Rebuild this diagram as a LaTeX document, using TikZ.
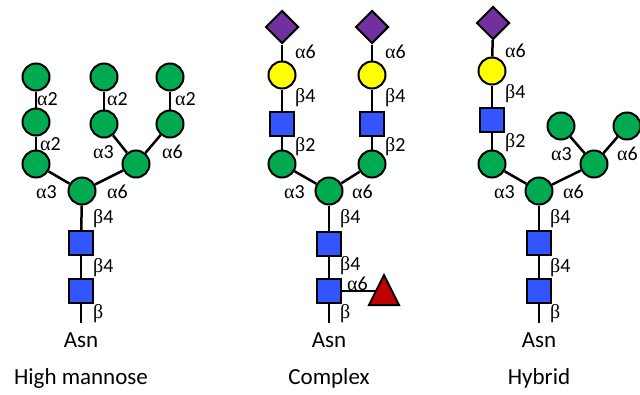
\documentclass[tikz,border=0pt]{standalone}
\usepackage{fontspec}
\setmainfont{Carlito}
\newfontfamily\grk{Liberation Serif}
\usetikzlibrary{shapes.geometric}
\definecolor{mgreen}{RGB}{0,170,80}
\definecolor{mblue}{RGB}{51,85,255}
\definecolor{myellow}{RGB}{255,255,0}
\definecolor{mpurple}{RGB}{112,48,160}
\definecolor{mred}{RGB}{192,0,0}
\newcommand\ga{{\grk α}}
\newcommand\gb{{\grk β}}
\tikzset{
  man/.style={circle,draw=black,fill=mgreen,line width=2pt,minimum size=27pt,inner sep=0pt},
  gal/.style={circle,draw=black,fill=myellow,line width=2pt,minimum size=27pt,inner sep=0pt},
  glc/.style={rectangle,draw=black,fill=mblue,line width=2pt,minimum size=24pt,inner sep=0pt},
  sia/.style={diamond,draw=black,fill=mpurple,line width=2pt,minimum width=33pt,minimum height=33pt,inner sep=0pt},
  fuc/.style={draw=black,fill=mred,line width=2pt,line join=miter},
  edge/.style={line width=2.5pt,black},
  lab/.style={anchor=base west,inner sep=0pt,font=\fontsize{20}{20}\selectfont},
  ttl/.style={anchor=base,inner sep=0pt,font=\fontsize{23}{23}\selectfont}
}
\begin{document}
\begin{tikzpicture}[x=1pt,y=-1pt]
\useasboundingbox (0,0) rectangle (640,394);
% ---------------- High mannose ----------------
\node[man] (h1) at (36,77) {};
\node[man] (h2) at (36,122) {};
\node[man] (h3) at (36,164) {};
\node[man] (h4) at (104,77) {};
\node[man] (h5) at (104,124) {};
\node[man] (h6) at (170,77) {};
\node[man] (h7) at (170,124) {};
\node[man] (h8) at (136,164) {};
\node[man] (hc) at (82,191) {};
\node[glc] (hs1) at (81,243) {};
\node[glc] (hs2) at (81,291) {};
\coordinate (he) at (81,323);
\draw[edge] (h1) -- (h2);
\draw[edge] (h2) -- (h3);
\draw[edge] (h3) -- (hc);
\draw[edge] (h4) -- (h5);
\draw[edge] (h5) -- (h8);
\draw[edge] (h6) -- (h7);
\draw[edge] (h7) -- (h8);
\draw[edge] (h8) -- (hc);
\draw[edge] (hc) -- (hs1);
\draw[edge] (hs1) -- (hs2);
\draw[edge] (hs2) -- (he);
\node[lab] (hl1) at (37,105) {\ga2};
\node[lab] (hl2) at (40,150) {\ga2};
\node[lab] (hl3) at (36,198) {\ga3};
\node[lab] (hl4) at (107,198) {\ga6};
\node[lab] (hl5) at (107,105) {\ga2};
\node[lab] (hl6) at (93,158) {\ga3};
\node[lab] (hl7) at (175,105) {\ga2};
\node[lab] (hl8) at (162,158) {\ga6};
\node[lab] (hl9) at (93,223) {\gb4};
\node[lab] (hl10) at (93,272) {\gb4};
\node[lab] (hl11) at (93,318) {\gb};
\node[ttl] (hasn) at (81,347) {Asn};
\node[ttl] (htt) at (81,384) {High mannose};
% ---------------- Complex ----------------
\node[sia] (c1) at (282,27) {};
\node[gal] (c2) at (282,75) {};
\node[glc] (c3) at (282,124) {};
\node[man] (c4) at (282,164) {};
\node[sia] (c5) at (372,27) {};
\node[gal] (c6) at (372,75) {};
\node[glc] (c7) at (372,124) {};
\node[man] (c8) at (372,164) {};
\node[man] (cc) at (329,191) {};
\node[glc] (cs1) at (329,244) {};
\node[glc] (cs2) at (329,291) {};
\coordinate (ce) at (329,323);
\coordinate (cf) at (384,293);
\draw[edge] (c1) -- (c2);
\draw[edge] (c2) -- (c3);
\draw[edge] (c3) -- (c4);
\draw[edge] (c4) -- (cc);
\draw[edge] (c5) -- (c6);
\draw[edge] (c6) -- (c7);
\draw[edge] (c7) -- (c8);
\draw[edge] (c8) -- (cc);
\draw[edge] (cc) -- (cs1);
\draw[edge] (cs1) -- (cs2);
\draw[edge] (cs2) -- (ce);
\draw[edge] (cs2.east) -- (cf |- cs2.east);
\draw[fuc] (384,275) -- (399,305) -- (369,305) -- cycle;
\node[lab] (cl1) at (295,58) {\ga6};
\node[lab] (cl2) at (295,102) {\gb4};
\node[lab] (cl3) at (295,151) {\gb2};
\node[lab] (cl4) at (385,58) {\ga6};
\node[lab] (cl5) at (385,102) {\gb4};
\node[lab] (cl6) at (385,151) {\gb2};
\node[lab] (cl7) at (284,198) {\ga3};
\node[lab] (cl8) at (352,198) {\ga6};
\node[lab] (cl9) at (340,223) {\gb4};
\node[lab] (cl10) at (340,270) {\gb4};
\node[lab] (cl11) at (347,290) {\ga6};
\node[lab] (cl12) at (340,318) {\gb};
\node[ttl] (casn) at (329,347) {Asn};
\node[ttl] (ctt) at (329,384) {Complex};
% ---------------- Hybrid ----------------
\node[sia] (y1) at (493,23) {};
\node[gal] (y2) at (492,71) {};
\node[glc] (y3) at (492,120) {};
\node[man] (y4) at (492,164) {};
\node[man] (y5) at (561,126) {};
\node[man] (y6) at (627,126) {};
\node[man] (y7) at (594,164) {};
\node[man] (yc) at (539,191) {};
\node[glc] (ys1) at (539,243) {};
\node[glc] (ys2) at (539,291) {};
\coordinate (ye) at (539,323);
\draw[edge] (y1) -- (y2);
\draw[edge] (y2) -- (y3);
\draw[edge] (y3) -- (y4);
\draw[edge] (y4) -- (yc);
\draw[edge] (y5) -- (y7);
\draw[edge] (y6) -- (y7);
\draw[edge] (y7) -- (yc);
\draw[edge] (yc) -- (ys1);
\draw[edge] (ys1) -- (ys2);
\draw[edge] (ys2) -- (ye);
\node[lab] (yl1) at (505,57) {\ga6};
\node[lab] (yl2) at (505,98) {\gb4};
\node[lab] (yl3) at (505,147) {\gb2};
\node[lab] (yl4) at (551,160) {\ga3};
\node[lab] (yl5) at (617,160) {\ga6};
\node[lab] (yl6) at (494,198) {\ga3};
\node[lab] (yl7) at (563,198) {\ga6};
\node[lab] (yl8) at (550,223) {\gb4};
\node[lab] (yl9) at (550,272) {\gb4};
\node[lab] (yl10) at (550,318) {\gb};
\node[ttl] (yasn) at (539,347) {Asn};
\node[ttl] (ytt) at (539,384) {Hybrid};
\end{tikzpicture}
\end{document}
